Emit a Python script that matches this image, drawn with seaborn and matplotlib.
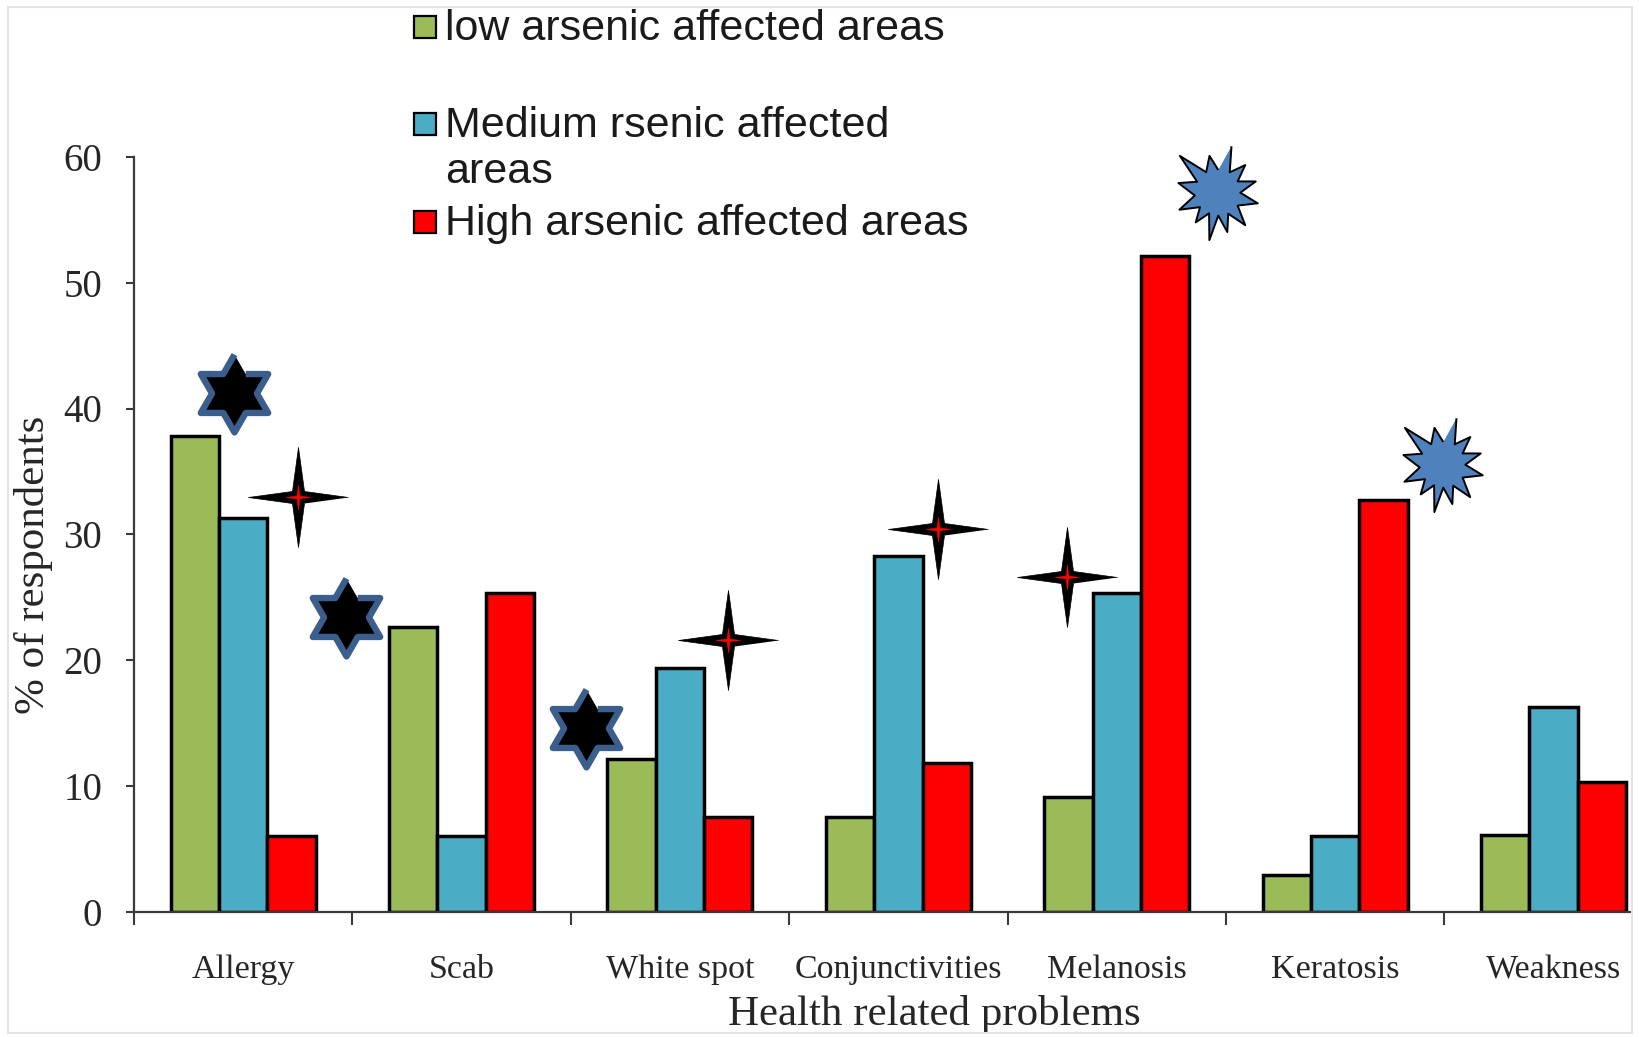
import numpy as np
import pandas as pd
import seaborn as sns
import matplotlib.pyplot as plt
from matplotlib.patches import Rectangle
from matplotlib.markers import MarkerStyle

problems = ['Allergy', 'Scab', 'White spot', 'Conjunctivities', 'Melanosis', 'Keratosis', 'Weakness']
areas = ['low arsenic affected areas', 'Medium rsenic affected\nareas', 'High arsenic affected areas']
low = [37.8, 22.6, 12.1, 7.5, 9.1, 2.9, 6.1]
medium = [31.3, 6.0, 19.4, 28.3, 25.3, 6.0, 16.3]
high = [6.0, 25.3, 7.5, 11.8, 52.1, 32.7, 10.3]
colors = ['#9BBB59', '#4BACC6', '#FF0000']

# decorative shapes drawn over the bars (data coords)
hex_x = [-0.04, 0.47, 1.57]
hex_y = [41.2, 23.4, 14.6]
spark_x = [0.25, 2.22, 3.18, 3.77]
spark_y = [33.0, 21.6, 30.4, 26.6]
burst_x = [4.46, 5.49]
burst_y = [57.1, 35.5]

df = pd.DataFrame({'problem': problems * 3,
                   'pct': low + medium + high,
                   'area': np.repeat(areas, len(problems))})

sns.set_style('white')
plt.rcParams['font.family'] = ['Liberation Serif', 'DejaVu Serif']

W, H = 1639, 1037
fig = plt.figure(figsize=(W / 100, H / 100), dpi=100)
ax = fig.add_axes([134 / W, 1 - 911.5 / H, 1496 / W, 754.5 / H])

sns.barplot(data=df, x='problem', y='pct', hue='area', hue_order=areas,
            palette=colors, saturation=1, width=0.664, edgecolor='black',
            linewidth=2.5, legend=False, ax=ax)

# marker shapes
ang = np.deg2rad(90 + np.arange(12) * 30)
rad = np.where(np.arange(12) % 2 == 0, 1.0, 0.577)
hexagram = MarkerStyle(list(zip(rad * np.cos(ang), rad * np.sin(ang))), joinstyle='miter')
ang4 = np.deg2rad(np.arange(8) * 45)
rad4 = np.where(np.arange(8) % 2 == 0, 1.0, 0.17)
spark = MarkerStyle(list(zip(rad4 * np.cos(ang4), rad4 * np.sin(ang4))), joinstyle='miter')
b_ang = [73.5, 60, 45.7, 31, 17.5, 2, -13.7, -31, -48.8, -62, -75.7, -88, -99.9, -113,
         -127, -142, -156.9, -175, 165, 150, 135, 118, 102, 88]
b_rad = [151, 75, 122, 72, 123, 70, 127, 72, 129, 70, 122, 68, 145, 66,
         111, 68, 127, 70, 124, 72, 163, 74, 118, 72]
b_ang = np.deg2rad(b_ang)
b_rad = np.array(b_rad) / 100
burst = MarkerStyle(list(zip(b_rad * np.cos(b_ang), b_rad * np.sin(b_ang))), joinstyle='miter')

ax.plot(hex_x, hex_y, ls='none', marker=hexagram, ms=56, mfc='black',
        mec='#3B5E8C', mew=4.6, clip_on=False, zorder=5)
ax.plot(spark_x, spark_y, ls='none', marker=spark, ms=72, mfc='black',
        mec='black', mew=0.5, clip_on=False, zorder=5)
ax.plot(spark_x, spark_y, ls='none', marker=spark, ms=18, mfc='red',
        mec='red', mew=0.3, clip_on=False, zorder=6)
ax.plot(burst_x, burst_y, ls='none', marker=burst, ms=68, mfc='#4F81BD',
        mec='black', mew=1.4, clip_on=False, zorder=5)

ax.set_xlim(-0.5, 6.35)
ax.set_ylim(0, 60)
ax.set_yticks(range(0, 61, 10))
sns.despine(ax=ax)
for s in ['left', 'bottom']:
    ax.spines[s].set_color('#3a3a3a')
    ax.spines[s].set_linewidth(1.6)
ax.tick_params(axis='y', direction='out', length=6, width=1.5, color='#3a3a3a',
               pad=17, labelsize=28, left=True)
ax.tick_params(axis='x', which='major', length=0, pad=31, labelsize=24.5)
ax.set_xticks(np.arange(len(problems)) - 0.5, minor=True)
ax.tick_params(axis='x', which='minor', direction='out', length=9, width=1.5,
               color='#3a3a3a', bottom=True)

ax.set_xlabel('Health related problems', fontsize=31)
ax.xaxis.set_label_coords(0.535, -0.137)
ax.xaxis.label.set_va('center')
ax.set_ylabel('% of respondents', fontsize=31)
ax.yaxis.set_label_coords(-0.067, 0.46)
ax.yaxis.label.set_va('center')

# legend drawn by hand, as in the original slide
legend_y = [27, 124, 222]
for c, lab, yy in zip(colors, areas, legend_y):
    fig.add_artist(Rectangle((414 / W, 1 - (yy + 11) / H), 22 / W, 22 / H,
                             transform=fig.transFigure, facecolor=c,
                             edgecolor='black', lw=1.6))
    fig.text(445 / W, 1 - (yy - 18) / H, lab, va='top', ha='left', fontsize=31,
             family=['Liberation Sans', 'DejaVu Sans'], color='#1a1a1a',
             linespacing=1.2)

fig.add_artist(Rectangle((8 / W, 1 - 1033 / H), 1624 / W, 1026 / H,
                         transform=fig.transFigure, fill=False,
                         edgecolor='#e4e4e4', lw=1.5))

fig.savefig('out.png', dpi=100)
